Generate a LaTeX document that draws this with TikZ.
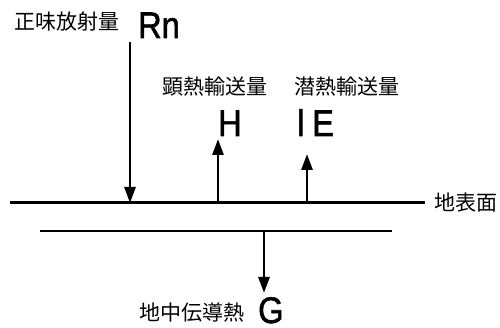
\documentclass[tikz,border=0pt]{standalone}
\usepackage{fontspec}
\setmainfont{Liberation Sans}
\newfontfamily\symfont[FakeBold=1.6]{Liberation Sans}
\newfontfamily\cjk{Noto Sans CJK JP}
\usetikzlibrary{arrows.meta}
\begin{document}
\begin{tikzpicture}[x=1pt,y=-1pt,
  jp/.style={font=\cjk\fontsize{21}{21}\selectfont, inner sep=0pt},
  sym/.style={font=\symfont\fontsize{37}{37}\selectfont, inner sep=0pt, text depth=0pt, anchor=base west, xscale=0.88, transform shape},
  flux/.style={line width=2.8pt, -{Triangle[length=16pt,width=11pt]}},
  surf/.style={line width=3pt},
  lower/.style={line width=2pt}]
\useasboundingbox (0,0) rectangle (500,328);
% surface lines
\coordinate (sL) at (10,203);
\coordinate (sR) at (425,203);
\draw[surf] (sL) -- (sR);
\coordinate (gL) at (40,231);
\coordinate (gR) at (392,231);
\draw[lower] (gL) -- (gR);
% labels
\node[jp] (rnlab) at (67,22) {正味放射量};
\node[sym] (Rn) at (138,38) {Rn};
\node[jp] (hlab) at (215,87) {顕熱輸送量};
\node[sym] (H) at (218,136) {H};
\node[jp] (elab) at (347,87) {潜熱輸送量};
\node[sym] (lE) at (297,136) {l\kern 9pt E};
\node[jp] (surflab) at (466,203) {地表面};
\node[jp] (glab) at (192,313) {地中伝導熱};
\node[sym] (G) at (258,323) {G};
% flux coordinates
\coordinate (rnTop) at (130,42);
\coordinate (rnBot) at (130,203);
\coordinate (hBot) at (218,203);
\coordinate (hTop) at (218,139);
\coordinate (eBot) at (307,203);
\coordinate (eTop) at (307,154);
\coordinate (gTop) at (264,231);
\coordinate (gBot) at (264,293);
\draw[flux] (rnTop) -- (rnBot);
\draw[flux] (hBot) -- (hTop);
\draw[flux] (eBot) -- (eTop);
\draw[flux] (gTop) -- (gBot);
\end{tikzpicture}
\end{document}
